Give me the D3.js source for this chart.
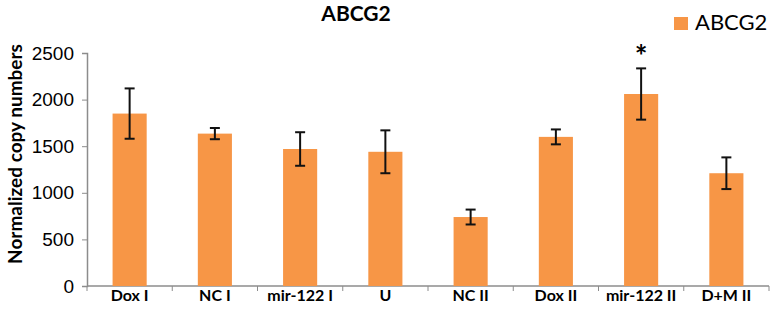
<!DOCTYPE html>
<html>
<head>
<meta charset="utf-8">
<script src="https://cdn.jsdelivr.net/npm/d3@7"></script>
<style>
  body { margin: 0; background: #fff; }
  svg { display: block; font-family: Lato, "Open Sans", sans-serif; }
</style>
</head>
<body>
<div id="chart"></div>
<script>
// ABCG2 normalized copy numbers per group

const categories = ["Dox I", "NC I", "mir-122 I", "U", "NC II", "Dox II", "mir-122 II", "D+M II"];
const values = [1850, 1635, 1470, 1440, 740, 1600, 2060, 1210];
const errors = [270, 60, 180, 230, 80, 80, 275, 170];
const starred = ["mir-122 II"];
const yTicks = [0, 500, 1000, 1500, 2000, 2500];

const width = 774;
const height = 310;
const margin = { top: 53, right: 5, bottom: 24, left: 87 };
const barColor = "#F79646";
const axisColor = "#8c8c8c";

const svg = d3.select("#chart")
  .append("svg")
  .attr("width", width)
  .attr("height", height);

const x = d3.scaleBand()
  .domain(categories)
  .range([margin.left, width - margin.right])
  .paddingInner(0.6)
  .paddingOuter(0.3);

const y = d3.scaleLinear()
  .domain([0, 2500])
  .range([height - margin.bottom, margin.top]);

// --- Y AXIS ---
const yAxis = svg.append("g")
  .attr("transform", `translate(${margin.left},0)`)
  .call(d3.axisLeft(y).tickValues(yTicks).tickFormat(d3.format("d")).tickSize(5).tickPadding(8));

yAxis.select(".domain").attr("stroke", axisColor).attr("stroke-width", 1.5);
yAxis.selectAll(".tick line").attr("stroke", axisColor);
yAxis.selectAll(".tick text")
  .style("font-size", "19px")
  .attr("fill", "#000");

// --- X AXIS ---
const xAxis = svg.append("g")
  .attr("transform", `translate(0,${y(0)})`);

xAxis.append("line")
  .attr("x1", margin.left)
  .attr("x2", width - margin.right)
  .attr("stroke", axisColor)
  .attr("stroke-width", 1.5);

// category dividers like Excel
const catW = (width - margin.right - margin.left) / categories.length;
xAxis.selectAll(".divider")
  .data(d3.range(categories.length + 1))
  .join("line")
  .attr("class", "divider")
  .attr("x1", i => margin.left + i * catW)
  .attr("x2", i => margin.left + i * catW)
  .attr("y1", 0)
  .attr("y2", 5)
  .attr("stroke", axisColor);

xAxis.selectAll(".label")
  .data(categories)
  .join("text")
  .attr("class", "label")
  .attr("x", d => x(d) + x.bandwidth() / 2)
  .attr("y", 15)
  .attr("text-anchor", "middle")
  .style("font-size", "16px")
  .style("font-weight", "bold")
  .text(d => d);

// --- BARS ---
svg.append("g")
  .selectAll("rect")
  .data(categories)
  .join("rect")
  .attr("x", d => x(d))
  .attr("y", (d, i) => y(values[i]))
  .attr("width", x.bandwidth())
  .attr("height", (d, i) => y(0) - y(values[i]))
  .attr("fill", barColor);

// --- ERROR BARS ---
const err = svg.append("g")
  .attr("stroke", "#111")
  .attr("stroke-width", 2);

categories.forEach((c, i) => {
  const cx = x(c) + x.bandwidth() / 2;
  const hi = y(values[i] + errors[i]);
  const lo = y(values[i] - errors[i]);
  err.append("line").attr("x1", cx).attr("x2", cx).attr("y1", hi).attr("y2", lo);
  err.append("line").attr("x1", cx - 5).attr("x2", cx + 5).attr("y1", hi).attr("y2", hi);
  err.append("line").attr("x1", cx - 5).attr("x2", cx + 5).attr("y1", lo).attr("y2", lo);
});

// significance marker
svg.selectAll(".star")
  .data(starred)
  .join("text")
  .attr("class", "star")
  .attr("x", d => x(d) + x.bandwidth() / 2)
  .attr("y", d => y(values[categories.indexOf(d)] + errors[categories.indexOf(d)]) - 1)
  .attr("text-anchor", "middle")
  .style("font-size", "30px")
  .style("font-weight", "bold")
  .text("*");

// --- TITLE ---
svg.append("text")
  .attr("x", 356)
  .attr("y", 21)
  .attr("text-anchor", "middle")
  .style("font-size", "21px")
  .style("font-weight", "bold")
  .text("ABCG2");

// --- Y LABEL ---
svg.append("text")
  .attr("transform", `translate(22,154) rotate(-90)`)
  .attr("text-anchor", "middle")
  .style("font-size", "19px")
  .style("font-weight", "bold")
  .text("Normalized copy numbers");

// --- LEGEND ---
const legend = svg.append("g").attr("transform", "translate(674,17)");
legend.append("rect")
  .attr("width", 14)
  .attr("height", 13)
  .attr("fill", barColor);
legend.append("text")
  .attr("x", 21)
  .attr("y", 13)
  .style("font-size", "22px")
  .text("ABCG2");
</script>
</body>
</html>
